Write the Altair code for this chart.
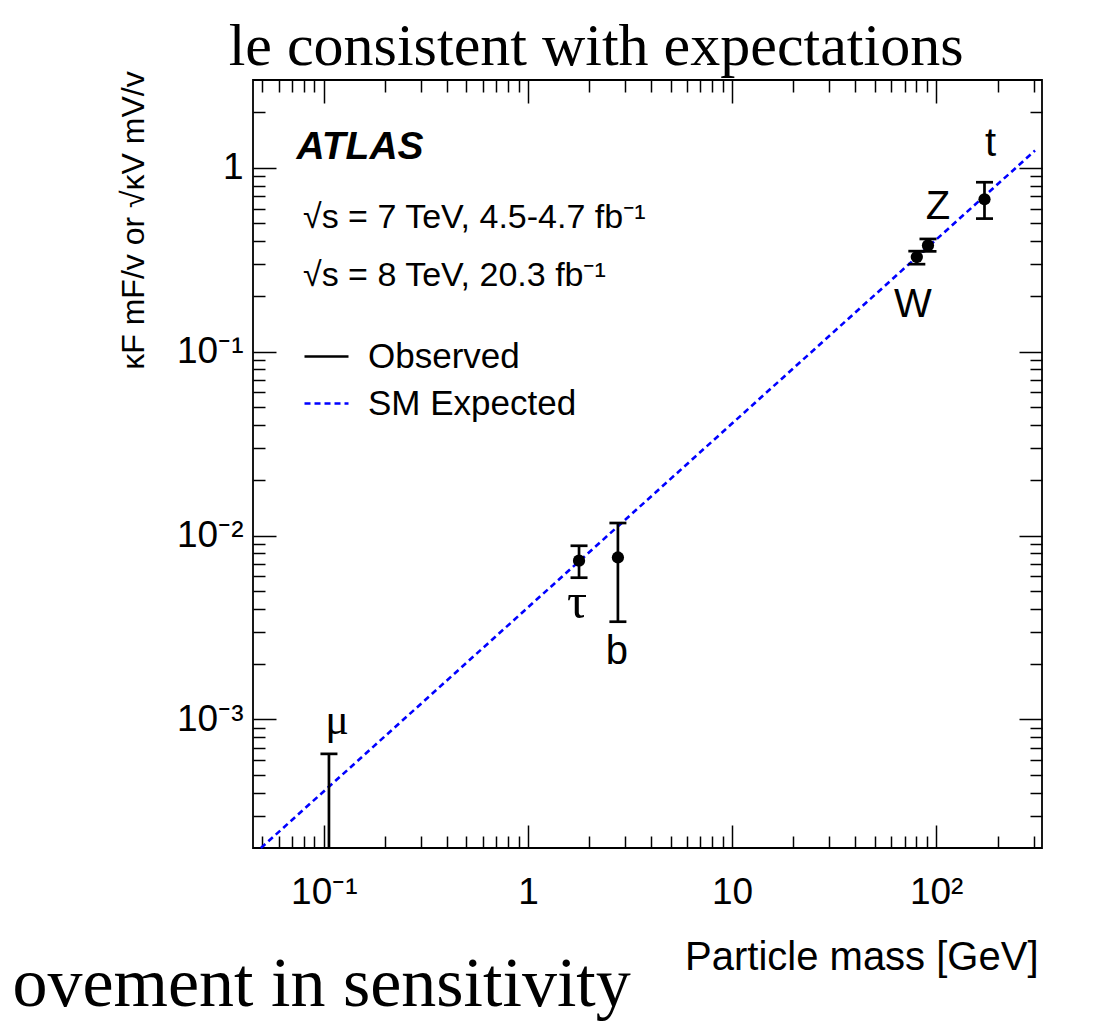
import altair as alt
import pandas as pd

# ---------------- data ----------------
PARTICLES = ["μ", "τ", "b", "W", "Z", "t"]
MASS_GEV = [0.106, 1.78, 2.76, 80.4, 91.2, 172.5]
COUPLING_OBS = [None, 0.0073, 0.0076, 0.327, 0.378, 0.674]
COUPLING_LO = [0.0002, 0.0059, 0.0034, 0.299, 0.351, 0.529]
COUPLING_HI = [0.00065, 0.0088, 0.0117, 0.352, 0.410, 0.834]

EXPECTED_MASS = [0.0492, 305.0]
EXPECTED_COUPLING = [0.0002, 1.24]

SERIES = ["Observed", "SM Expected"]

X_DOMAIN = [0.045, 330]
Y_DOMAIN = [0.0002, 3]
X_MAJOR = [0.1, 1, 10, 100]
X_LABELS = ["10⁻¹", "1", "10", "10²"]
Y_MAJOR = [0.001, 0.01, 0.1, 1]
Y_LABELS = ["10⁻³", "10⁻²", "10⁻¹", "1"]

ENERGY_LINES = ["√s = 7 TeV, 4.5-4.7 fb⁻¹", "√s = 8 TeV, 20.3 fb⁻¹"]
EXPERIMENT = "ATLAS"
X_TITLE = "Particle mass [GeV]"
Y_TITLE = "κF mF/v  or  √κV mV/v"
SLIDE_TOP = "le consistent with expectations"
SLIDE_BOTTOM = "ovement in sensitivity"

# ---------------- layout / style ----------------
W, H = 789, 768
PAD = {"left": 245, "top": 72, "right": 52, "bottom": 174}
FONT = "Liberation Sans"
SERIF = "Liberation Serif"


def log_ticks(lo, hi, e0, e1):
    out = []
    for e in range(e0, e1 + 1):
        for m in range(1, 10):
            v = float(f"{m}e{e}")
            if lo < v < hi:
                out.append(v)
    return out


X_TICKS = log_ticks(X_DOMAIN[0], X_DOMAIN[1], -2, 2)
Y_TICKS = log_ticks(Y_DOMAIN[0], Y_DOMAIN[1], -4, 0)


def label_expr(vals, labels):
    expr = "''"
    for v, lab in reversed(list(zip(vals, labels))):
        expr = f"datum.value == {v} ? '{lab}' : {expr}"
    return expr


MAJOR_TEST = "abs(log(datum.value)/LN10 - round(log(datum.value)/LN10)) < 0.001"
TICK_SIZE = {"condition": {"test": MAJOR_TEST, "value": 23}, "value": 12}

xs = alt.Scale(type="log", domain=X_DOMAIN, nice=False)
ys = alt.Scale(type="log", domain=Y_DOMAIN, nice=False)

tick_common = dict(labels=False, domain=False, grid=False, ticks=True,
                   tickColor="black", tickWidth=1.5, tickSize=TICK_SIZE)

x_label_axis = alt.Axis(
    orient="bottom", values=X_MAJOR, labelExpr=label_expr(X_MAJOR, X_LABELS),
    ticks=False, tickSize=0, domain=False, grid=False,
    labelFont=FONT, labelFontSize=37, labelColor="black", labelPadding=26,
    labelFlush=False, labelOverlap=False,
    title=X_TITLE, titleFont=FONT, titleFontSize=40, titleFontWeight="normal",
    titleColor="black", titleX=785, titleY=121, titleAlign="right",
    titleBaseline="alphabetic", titleAngle=0)

y_label_axis = alt.Axis(
    orient="left", values=Y_MAJOR, labelExpr=label_expr(Y_MAJOR, Y_LABELS),
    ticks=False, tickSize=0, domain=False, grid=False,
    labelFont=FONT, labelFontSize=37, labelColor="black", labelPadding=10,
    labelFlush=False, labelOverlap=False,
    title=Y_TITLE, titleFont=FONT, titleFontSize=32, titleFontWeight="normal",
    titleColor="black", titleX=-120, titleY=140, titleAngle=270,
    titleAlign="center", titleBaseline="middle")

x_in_bottom = alt.Axis(
    orient="top", offset=-H, values=X_TICKS, **tick_common,
    title=SLIDE_BOTTOM, titleFont=SERIF, titleFontSize=70, titleFontWeight="normal",
    titleColor="black", titleX=-241, titleY=157, titleAlign="left",
    titleBaseline="alphabetic", titleAngle=0, titleLimit=3000)

x_in_top = alt.Axis(
    orient="bottom", offset=-H, values=X_TICKS, **tick_common,
    title=SLIDE_TOP, titleFont=SERIF, titleFontSize=60, titleFontWeight="normal",
    titleColor="black", titleX=710, titleY=-16, titleAlign="right",
    titleBaseline="alphabetic", titleAngle=0, titleLimit=3000)

y_in_left = alt.Axis(
    orient="right", offset=-W, values=Y_TICKS, **tick_common,
    title=EXPERIMENT, titleFont=FONT, titleFontSize=39, titleFontWeight="bold",
    titleFontStyle="italic", titleColor="black", titleX=43, titleY=78,
    titleAlign="left", titleBaseline="alphabetic", titleAngle=0, titleLimit=1000)

y_in_right = alt.Axis(orient="left", offset=-W, values=Y_TICKS, **tick_common, title=None)

legend = alt.Legend(
    orient="none", legendX=50, legendY=121, title=ENERGY_LINES,
    titleFont=FONT, titleFontSize=34, titleFontWeight="normal", titleColor="black",
    titleLineHeight=58, titleBaseline="top", titlePadding=40, titleLimit=900,
    titleAnchor="start",
    labelFont=FONT, labelFontSize=35, labelColor="black", labelLimit=600,
    labelOffset=18, symbolType="stroke", symbolSize=1936, symbolStrokeWidth=2.6,
    rowPadding=5, padding=0, symbolOffset=0)

df = pd.DataFrame({
    "particle": PARTICLES,
    "mass": MASS_GEV,
    "obs": COUPLING_OBS,
    "lo": COUPLING_LO,
    "hi": COUPLING_HI,
})
df["series"] = SERIES[0]

exp_df = pd.DataFrame({"mass": EXPECTED_MASS, "coupling": EXPECTED_COUPLING})
exp_df["series"] = SERIES[1]

color_enc = alt.Color("series:N", scale=alt.Scale(domain=SERIES, range=["black", "#0000ff"]),
                      legend=legend)
dash_enc = alt.StrokeDash("series:N", scale=alt.Scale(domain=SERIES, range=[[1, 0], [6, 4]]),
                          legend=legend)

expected = alt.Chart(exp_df).mark_line(strokeWidth=2.6).encode(
    x=alt.X("mass:Q", scale=xs, axis=x_label_axis),
    y=alt.Y("coupling:Q", scale=ys, axis=y_label_axis),
    color=color_enc, strokeDash=dash_enc)

bars = alt.Chart(df).mark_rule(strokeWidth=2.7, opacity=1).encode(
    x=alt.X("mass:Q", scale=xs, axis=x_in_bottom),
    y=alt.Y("lo:Q", scale=ys, axis=y_in_left),
    y2="hi:Q", color=color_enc, strokeDash=dash_enc)

caps_hi = alt.Chart(df).mark_tick(orient="horizontal", size=17, thickness=2.7,
                                  color="black", opacity=1).encode(
    x=alt.X("mass:Q", scale=xs, axis=None),
    y=alt.Y("hi:Q", scale=ys, axis=None))

caps_lo = alt.Chart(df).transform_filter("isValid(datum.obs)").mark_tick(
    orient="horizontal", size=17, thickness=2.7, color="black", opacity=1).encode(
    x=alt.X("mass:Q", scale=xs, axis=None),
    y=alt.Y("lo:Q", scale=ys, axis=None))

points = alt.Chart(df).transform_filter("isValid(datum.obs)").mark_point(
    filled=True, size=150, opacity=1, color="black", shape="circle").encode(
    x=alt.X("mass:Q", scale=xs, axis=x_in_top),
    y=alt.Y("obs:Q", scale=ys, axis=y_in_right))

# label placement: (anchor field, dx, dy, font, size)
LABEL_STYLE = {
    "μ": ("hi", 8, -20, SERIF, 44),
    "τ": ("lo", -2, 40, SERIF, 50),
    "b": ("lo", -1, 42, FONT, 40),
    "W": ("lo", -4, 53, FONT, 40),
    "Z": ("hi", 10, -20, FONT, 40),
    "t": ("hi", 6, -26, FONT, 40),
}
texts = []
for p, (anchor, dx, dy, font, size) in LABEL_STYLE.items():
    texts.append(
        alt.Chart(df).transform_filter(alt.datum.particle == p).mark_text(
            font=font, fontSize=size, dx=dx, dy=dy, align="center",
            baseline="alphabetic", color="black").encode(
            x=alt.X("mass:Q", scale=xs, axis=None),
            y=alt.Y(f"{anchor}:Q", scale=ys, axis=None),
            text="particle:N"))

chart = alt.layer(expected, bars, caps_hi, caps_lo, points, *texts).resolve_axis(
    x="independent", y="independent"
).properties(
    width=W, height=H, padding=PAD, autosize=alt.AutoSizeParams(type="none"),
    background="white"
).configure_view(stroke="black", strokeWidth=1.8)

chart.save("out.html", embed_options={"renderer": "svg", "actions": False})
